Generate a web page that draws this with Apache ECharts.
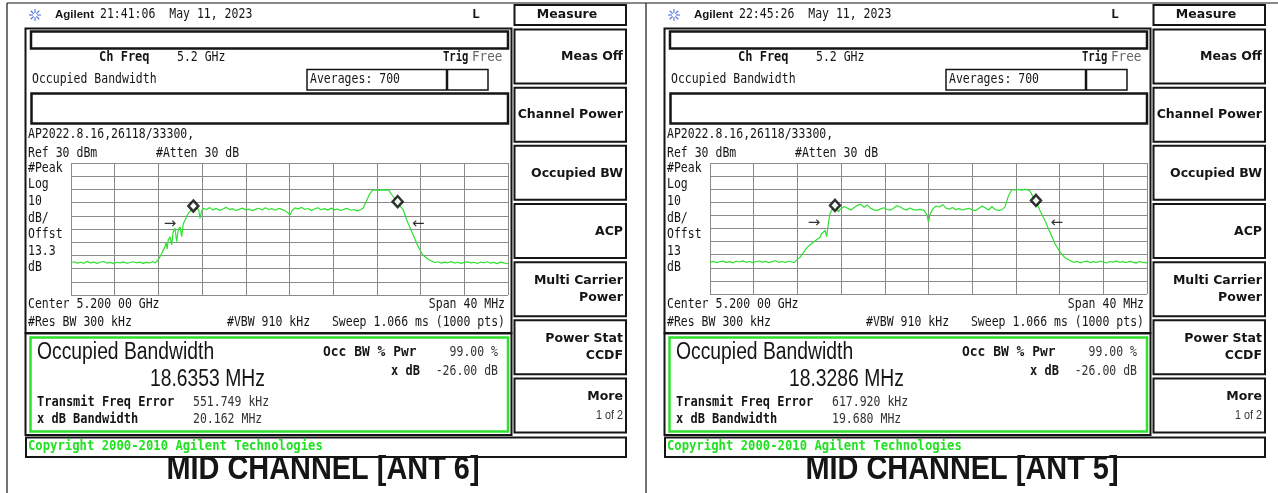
<!DOCTYPE html>
<html>
<head>
<meta charset="utf-8">
<script src="https://cdn.jsdelivr.net/npm/echarts@6/dist/echarts.min.js"></script>
<style>
html, body { margin: 0; padding: 0; background: #fff; }
#chart { width: 1278px; height: 493px; }
</style>
</head>
<body>
<div id="chart"></div>
<script>
// --- 1. Data read off the two analyzer screens ---
// x = offset from 5.2 GHz in MHz, y = level in dBm
const ant6Trace = [
    [-20.0,-45.4],[-19.7,-44.8],[-19.4,-45.9],[-19.1,-45.2],[-18.8,-46.0],[-18.5,-44.5],[-18.2,-45.7],[-17.9,-45.1],
    [-17.6,-46.1],[-17.3,-45.0],[-17.0,-44.6],[-16.7,-45.8],[-16.4,-45.3],[-16.1,-46.2],[-15.8,-45.2],[-15.5,-45.7],
    [-15.2,-44.9],[-14.9,-46.0],[-14.6,-45.4],[-14.3,-44.8],[-14.0,-45.6],[-13.7,-45.1],[-13.4,-46.0],[-13.1,-45.3],
    [-12.8,-45.7],[-12.5,-44.6],[-12.3,-45.8],
    [-12.16,-44.5],[-11.95,-42.5],[-11.85,-41.0],[-11.7,-38.5],[-11.55,-36.0],[-11.4,-33.5],[-11.3,-30.0],[-11.2,-35.0],
    [-11.1,-28.5],[-10.94,-25.8],[-10.79,-32.0],[-10.65,-22.5],[-10.48,-19.5],[-10.33,-29.6],[-10.18,-20.5],[-10.02,-18.3],
    [-9.87,-25.8],[-9.72,-16.0],[-9.56,-13.2],[-9.41,-10.5],[-9.26,-8.1],[-9.1,-6.5],[-8.95,-5.6],[-8.8,-4.5],
    [-8.65,-5.8],[-8.45,-4.2],[-8.3,-6.0],[-8.19,-11.9],[-8.05,-6.5],[-7.88,-4.3],
    [-7.6,-5.2],[-7.3,-3.8],[-7.0,-5.6],[-6.7,-4.4],[-6.4,-5.9],[-6.1,-4.8],[-5.8,-3.6],[-5.5,-5.3],[-5.2,-4.6],
    [-4.9,-6.0],[-4.6,-5.1],[-4.3,-4.2],[-4.0,-5.5],[-3.7,-4.9],[-3.4,-6.1],[-3.1,-5.0],[-2.8,-4.3],[-2.5,-5.6],
    [-2.2,-3.9],[-1.9,-5.2],[-1.6,-4.6],[-1.3,-5.8],[-1.0,-4.4],[-0.7,-5.1],[-0.4,-6.2],[-0.15,-7.8],[0.05,-9.4],
    [0.25,-6.0],[0.5,-4.0],[0.8,-4.9],[1.1,-3.6],[1.4,-5.2],[1.7,-4.5],[2.0,-5.9],[2.3,-4.8],[2.6,-3.9],[2.9,-5.4],
    [3.2,-4.6],[3.5,-5.7],[3.8,-4.2],[4.1,-5.5],[4.4,-4.9],[4.7,-6.0],[5.0,-5.0],[5.3,-4.4],[5.6,-5.8],[5.9,-5.2],
    [6.2,-6.3],[6.5,-5.4],[6.75,-4.0],
    [7.0,0.5],[7.3,6.0],[7.6,9.4],[7.9,9.6],[8.2,9.3],[8.5,9.7],[8.8,9.4],[9.05,9.6],[9.2,8.5],[9.45,5.0],[9.7,2.2],
    [9.9,0.7],[10.15,-2.8],[10.42,-5.6],[10.73,-13.2],[10.95,-17.5],[11.19,-22.0],[11.42,-26.5],[11.64,-30.8],
    [11.87,-34.8],[12.1,-38.4],[12.33,-40.5],[12.56,-42.2],[12.8,-43.5],[13.02,-44.2],
    [13.3,-45.4],[13.6,-44.8],[13.9,-45.9],[14.2,-45.1],[14.5,-45.6],[14.8,-44.7],[15.1,-45.8],[15.4,-45.2],
    [15.7,-46.0],[16.0,-45.3],[16.3,-44.9],[16.6,-45.7],[16.9,-45.2],[17.2,-46.1],[17.5,-45.0],[17.8,-45.6],
    [18.1,-44.8],[18.4,-45.9],[18.7,-45.3],[19.0,-46.2],[19.3,-45.1],[19.6,-45.7],[20.0,-46.3]
];
const ant5Trace = [
    [-20.0,-45.8],[-19.7,-45.1],[-19.4,-46.0],[-19.1,-45.4],[-18.8,-44.9],[-18.5,-45.9],[-18.2,-45.3],[-17.9,-46.2],
    [-17.6,-45.0],[-17.3,-45.6],[-17.0,-44.7],[-16.7,-45.8],[-16.4,-45.2],[-16.1,-46.0],[-15.8,-45.4],[-15.5,-44.8],
    [-15.2,-45.7],[-14.9,-45.1],[-14.6,-46.1],[-14.3,-45.3],[-14.0,-44.6],[-13.7,-45.8],[-13.4,-45.2],[-13.1,-45.9],
    [-12.8,-45.0],[-12.5,-45.6],[-12.3,-45.9],
    [-12.13,-44.5],[-11.95,-43.2],[-11.76,-42.0],[-11.45,-38.4],[-11.15,-34.8],[-10.85,-32.6],[-10.54,-30.5],
    [-10.24,-28.6],[-9.93,-26.7],[-9.78,-24.0],[-9.63,-25.4],[-9.47,-21.5],[-9.32,-26.1],[-9.17,-16.4],[-9.02,-8.7],
    [-8.77,-4.9],[-8.56,-2.4],[-8.4,-4.0],[-8.25,-7.5],[-8.1,-5.5],[-7.95,-4.9],
    [-7.7,-3.2],[-7.4,-4.5],[-7.1,-5.8],[-6.8,-4.0],[-6.5,-2.2],[-6.2,-1.6],[-5.9,-3.8],[-5.6,-2.0],[-5.3,-4.6],
    [-5.0,-5.8],[-4.7,-6.2],[-4.4,-5.0],[-4.1,-4.2],[-3.8,-5.5],[-3.5,-6.0],[-3.2,-4.5],[-2.9,-2.6],[-2.6,-3.4],
    [-2.3,-5.2],[-2.0,-5.8],[-1.7,-4.4],[-1.4,-5.6],[-1.1,-6.0],[-0.8,-5.4],[-0.4,-6.2],[-0.15,-9.5],[0.0,-15.2],
    [0.15,-9.0],[0.4,-5.0],[0.7,-2.8],[1.0,-3.6],[1.3,-1.8],[1.6,-4.4],[1.9,-5.2],[2.2,-4.0],[2.5,-5.6],[2.8,-4.8],
    [3.1,-5.9],[3.4,-5.2],[3.7,-4.6],[4.0,-5.8],[4.3,-6.3],[4.6,-4.7],[4.9,-2.9],[5.2,-4.2],[5.5,-5.9],[5.8,-3.2],
    [6.1,-5.5],[6.4,-6.2],[6.7,-5.8],[7.0,-3.5],
    [7.3,4.5],[7.61,9.6],[7.9,9.4],[8.2,9.8],[8.5,9.3],[8.8,9.9],[9.05,9.5],[9.29,8.6],[9.55,4.5],[9.84,1.4],
    [10.2,-6.2],[10.66,-13.9],[11.12,-22.8],[11.58,-31.7],[12.04,-38.1],[12.5,-42.4],[12.95,-44.5],
    [13.3,-45.8],[13.6,-45.1],[13.9,-46.2],[14.2,-45.4],[14.5,-44.9],[14.8,-46.0],[15.1,-45.3],[15.4,-45.9],
    [15.7,-44.8],[16.0,-45.6],[16.3,-46.3],[16.6,-45.2],[16.9,-45.7],[17.2,-44.9],[17.5,-45.8],[17.8,-45.3],
    [18.1,-46.0],[18.4,-45.1],[18.7,-45.7],[19.0,-46.4],[19.3,-45.2],[19.6,-45.8],[20.0,-46.2]
];
const ant6Markers = [[-8.8, -2.6], [9.9, 0.7]];
const ant5Markers = [[-8.56, -2.4], [9.84, 1.4]];
const ant6Arrows = [[-10.94, -16.2], [11.79, -16.4]];
const ant5Arrows = [[-10.48, -15.6], [11.74, -15.6]];
const arrowGlyphs = ['\u2192', '\u2190'];

// axis scale: span 40 MHz (4 MHz/div), ref 30 dBm, 10 dB/div
const spanMHz = [-20, 20];
const divMHz = 4;
const refLevel = 30;
const dbPerDiv = 10;

// per screen texts
const timestamps = ['21:41:06  May 11, 2023', '22:45:26  May 11, 2023'];
const offsetDb = ['13.3', '13'];
const occBw = ['18.6353 MHz', '18.3286 MHz'];
const freqError = ['551.749 kHz', '617.920 kHz'];
const xdbBandwidth = ['20.162 MHz', '19.680 MHz'];
const captions = ['MID CHANNEL [ANT 6]', 'MID CHANNEL [ANT 5]'];
const softKeys = [['Meas Off'], ['Channel Power'], ['Occupied BW'], ['ACP'],
    ['Multi Carrier', 'Power'], ['Power Stat', 'CCDF'], ['More', '1 of 2']];

// --- 2. Drawing helpers ---
const MONO = '"DejaVu Sans Mono", monospace';
const SANS = '"Liberation Sans", Arial, sans-serif';
const KEYF = '"DejaVu Sans", sans-serif';
const GREEN = '#2fe02f';
const INK = '#151515';

function txt(x, y, s, font, opt) {
    opt = opt || {};
    const a = opt.align || 'left';
    return {
        type: 'text', x: x, y: y, silent: true,
        scaleX: opt.sx || 1, scaleY: opt.sy || 1,
        style: {
            text: s, font: font, fill: opt.fill || INK,
            textAlign: a, align: a,
            textVerticalAlign: 'middle', verticalAlign: 'middle'
        }
    };
}
function box(x, y, w, h, lw, stroke) {
    return {
        type: 'rect', silent: true,
        shape: { x: x, y: y, width: w, height: h },
        style: { fill: 'none', stroke: stroke || INK, lineWidth: lw || 2 }
    };
}
function seg(x1, y1, x2, y2, lw, stroke) {
    return {
        type: 'line', silent: true,
        shape: { x1: x1, y1: y1, x2: x2, y2: y2 },
        style: { stroke: stroke || INK, lineWidth: lw || 1 }
    };
}
// small regular / bold screen text
const sm = (x, y, s, opt) => txt(x, y, s, '11.5px ' + MONO, Object.assign({ sy: 1.15 }, opt));
const smb = (x, y, s, opt) => txt(x, y, s, 'bold 12px ' + MONO, Object.assign({ sy: 1.1 }, opt));

function panel(ox, i) {
    const g = [];
    // outer frame
    g.push(seg(ox + 7, 3, ox + 7, 493, 1.2));

    // Agilent spark logo
    for (let k = 0; k < 8; k++) {
        const a = k * Math.PI / 4;
        g.push(seg(ox + 35 + 2 * Math.cos(a), 15 + 2 * Math.sin(a),
            ox + 35 + 6 * Math.cos(a), 15 + 6 * Math.sin(a), 1.1, '#4a6fe0'));
    }
    g.push(txt(ox + 55, 15, 'Agilent', 'bold 11.5px ' + SANS));
    g.push(sm(ox + 100, 15, timestamps[i]));
    g.push(txt(ox + 472, 15, 'L', 'bold 13px ' + MONO));

    // screen frame and header boxes
    g.push(box(ox + 25.5, 28.5, 486, 304.5, 2));
    g.push(box(ox + 31, 31.5, 477, 17, 2.5));
    g.push(smb(ox + 99, 58, 'Ch Freq'));
    g.push(sm(ox + 177, 58, '5.2 GHz'));
    g.push(smb(ox + 443, 58, 'Trig', { sx: 0.88 }));
    g.push(sm(ox + 472, 58, 'Free', { fill: '#666', sx: 1.1 }));
    g.push(sm(ox + 32, 80, 'Occupied Bandwidth'));
    g.push(box(ox + 307, 69.5, 181, 20.5, 1.5));
    g.push(seg(ox + 447, 69.5, ox + 447, 90, 2.5));
    g.push(sm(ox + 310, 80, 'Averages: 700'));
    g.push(box(ox + 31.5, 93.5, 476.5, 30, 2.5));
    g.push(sm(ox + 28, 135, 'AP2022.8.16,26118/33300,'));
    g.push(sm(ox + 28, 154, 'Ref 30 dBm'));
    g.push(sm(ox + 156, 154, '#Atten 30 dB'));

    // left scale column
    const scaleLabels = ['#Peak', 'Log', '10', 'dB/', 'Offst', offsetDb[i], 'dB'];
    scaleLabels.forEach((s, k) => g.push(sm(ox + 28, 168.3 + k * 16.6, s)));

    // below graticule
    g.push(sm(ox + 28, 305, 'Center 5.200 00 GHz'));
    g.push(sm(ox + 505, 305, 'Span 40 MHz', { align: 'right' }));
    g.push(sm(ox + 28, 323, '#Res BW 300 kHz'));
    g.push(sm(ox + 227, 323, '#VBW 910 kHz'));
    g.push(sm(ox + 505, 323, 'Sweep 1.066 ms (1000 pts)', { align: 'right' }));

    // result block
    g.push(box(ox + 25.5, 333.5, 486, 101.5, 2));
    g.push(box(ox + 30.5, 337.5, 477.5, 94, 2.5, GREEN));
    g.push(txt(ox + 37, 353, 'Occupied Bandwidth', '23px ' + SANS, { sx: 0.84 }));
    g.push(txt(ox + 150, 380, occBw[i], '23px ' + SANS, { sx: 0.84 }));
    g.push(smb(ox + 37, 403, 'Transmit Freq Error'));
    g.push(sm(ox + 193, 403, freqError[i], { fill: '#333' }));
    g.push(smb(ox + 37, 420, 'x dB Bandwidth'));
    g.push(sm(ox + 193, 420, xdbBandwidth[i], { fill: '#333' }));
    g.push(smb(ox + 323, 353, 'Occ BW % Pwr', { sx: 1.08 }));
    g.push(sm(ox + 498, 353, '99.00 %', { align: 'right', fill: '#333' }));
    g.push(smb(ox + 420, 371.5, 'x dB', { align: 'right' }));
    g.push(sm(ox + 498, 371.5, '-26.00 dB', { align: 'right', fill: '#333' }));

    // copyright bar
    g.push(box(ox + 26, 437.5, 600, 19.5, 2));
    g.push(smb(ox + 28, 447, 'Copyright 2000-2010 Agilent Technologies', { fill: '#22e022', sx: 1.02 }));

    // soft keys
    g.push(box(ox + 514.5, 5, 111.5, 20, 2));
    g.push(txt(ox + 567, 15, 'Measure', 'bold 12.5px ' + KEYF, { align: 'center' }));
    softKeys.forEach((lines, k) => {
        const top = 29.5 + k * 58.17;
        g.push(box(ox + 514.5, top, 111.5, 54, 2));
        if (lines.length === 1) {
            g.push(txt(ox + 623, top + 27.5, lines[0], 'bold 12.5px ' + KEYF, { align: 'right' }));
        } else {
            g.push(txt(ox + 623, top + 18.5, lines[0], 'bold 12.5px ' + KEYF, { align: 'right' }));
            if (lines[1] === '1 of 2') {
                g.push(txt(ox + 623, top + 36.5, lines[1], '13.5px ' + SANS, { align: 'right', sx: 0.8, fill: '#333' }));
            } else {
                g.push(txt(ox + 623, top + 35.5, lines[1], 'bold 12.5px ' + KEYF, { align: 'right' }));
            }
        }
    });

    // caption under the screen
    g.push(txt(ox + 323, 470, captions[i], 'bold 33px ' + SANS, { align: 'center', sx: 0.876 }));
    return g;
}

// --- 3. Chart ---
const chart = echarts.init(document.getElementById('chart'));

function axisPair(gi) {
    const common = {
        gridIndex: gi, type: 'value',
        axisLabel: { show: false }, axisTick: { show: false }, axisLine: { show: false },
        splitLine: { show: true, lineStyle: { color: '#8a8a8a', width: 1 } }
    };
    return {
        x: Object.assign({ min: spanMHz[0], max: spanMHz[1], interval: divMHz }, common),
        y: Object.assign({ min: refLevel - 10 * dbPerDiv, max: refLevel, interval: dbPerDiv }, common)
    };
}
const ax0 = axisPair(0), ax1 = axisPair(1);

function traceSeries(idx, data) {
    return {
        type: 'line', xAxisIndex: idx, yAxisIndex: idx, data: data,
        showSymbol: false, silent: true, z: 3,
        lineStyle: { color: GREEN, width: 1.2 }
    };
}
function markerSeries(idx, data) {
    return {
        type: 'scatter', xAxisIndex: idx, yAxisIndex: idx, data: data,
        symbol: 'diamond', symbolSize: [10, 11], silent: true, z: 5,
        itemStyle: { color: '#fff', borderColor: '#000', borderWidth: 2.5 }
    };
}
function arrowSeries(idx, data) {
    return {
        type: 'scatter', xAxisIndex: idx, yAxisIndex: idx, silent: true, z: 5,
        data: data.map((p, k) => ({ value: p, name: arrowGlyphs[k] })),
        symbolSize: 1, itemStyle: { color: 'rgba(0,0,0,0)' },
        label: { show: true, position: 'inside', formatter: '{b}', color: '#000', fontSize: 15, fontFamily: 'DejaVu Sans' }
    };
}

const option = {
    animation: false,
    backgroundColor: '#fff',
    grid: [
        { left: 71, top: 163, width: 437, height: 132, show: false },
        { left: 710, top: 163, width: 437, height: 131, show: false }
    ],
    xAxis: [ax0.x, ax1.x],
    yAxis: [ax0.y, ax1.y],
    series: [
        traceSeries(0, ant6Trace),
        traceSeries(1, ant5Trace),
        markerSeries(0, ant6Markers),
        markerSeries(1, ant5Markers),
        arrowSeries(0, ant6Arrows),
        arrowSeries(1, ant5Arrows)
    ],
    graphic: {
        elements: [seg(7, 3, 1278, 3, 1.2)].concat(panel(0, 0), panel(639, 1))
    }
};
chart.setOption(option);
</script>
</body>
</html>
